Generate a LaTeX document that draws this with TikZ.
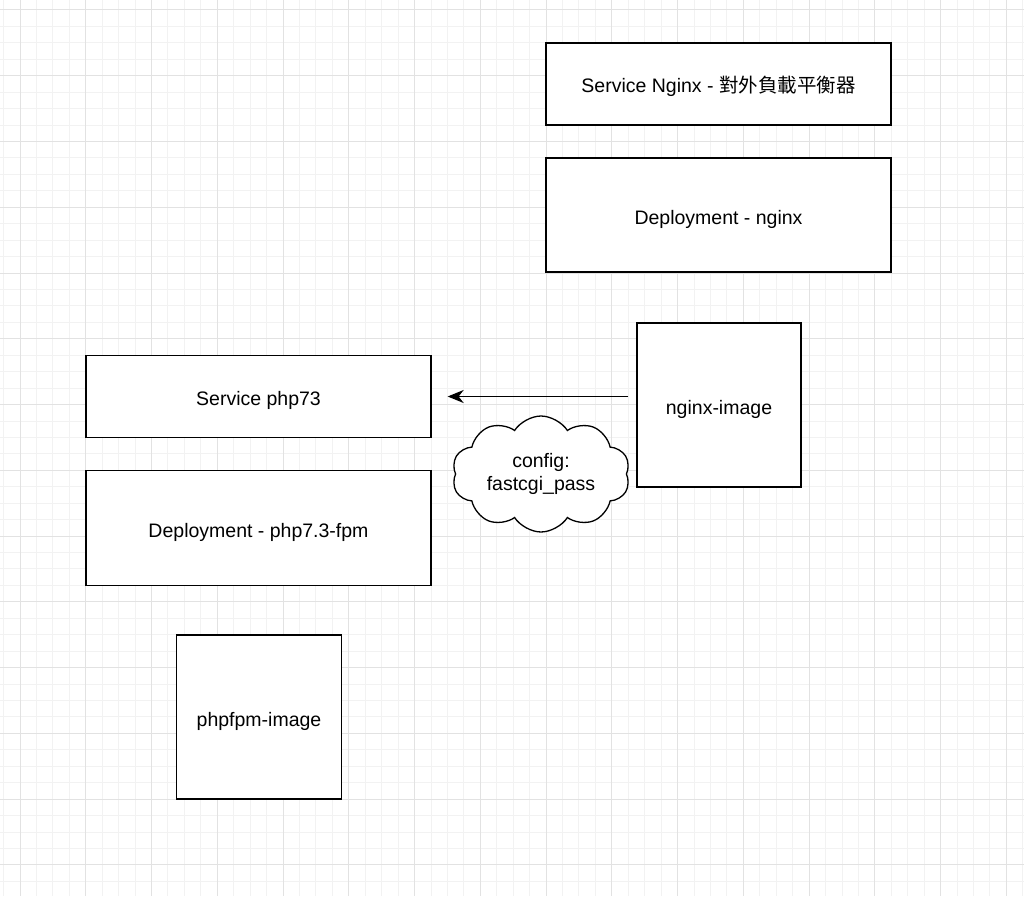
\documentclass[tikz,border=0pt]{standalone}
\usepackage{fontspec}
\setmainfont{Liberation Sans}
\newfontfamily\cjk{Noto Sans CJK TC}
\usetikzlibrary{arrows.meta,shapes.symbols}
\definecolor{gridminor}{HTML}{F2F2F2}
\definecolor{gridmajor}{HTML}{E2E2E2}
\begin{document}
\begin{tikzpicture}[x=1pt, y=-1pt,
  box/.style={draw=black, line width=1.3pt, fill=white, inner sep=0pt,
    text height=18pt, text depth=0pt,
    font=\fontsize{19.5}{23}\selectfont},
  puff/.style={cloud, cloud puffs=10, cloud puff arc=115, aspect=1.62,
    draw=black, line width=1.3pt, fill=white, inner sep=0pt, align=center,
    font=\fontsize{19.5}{23}\selectfont},
  link/.style={line width=1.3pt, -{Stealth[length=16pt,width=13pt,inset=5pt]}}]
\useasboundingbox (0,0) rectangle (1024,896);
\fill[white] (0,0) rectangle (1024,896);
% grid
\foreach \i in {-1,...,62} {
  \draw[gridminor, line width=1pt] (20+16.44*\i,0) -- ++(0,896);
}
\foreach \i in {-1,...,54} {
  \draw[gridminor, line width=1pt] (0,10+16.44*\i) -- ++(1024,0);
}
\foreach \i in {0,...,15} {
  \draw[gridmajor, line width=1pt] (20+65.75*\i,0) -- ++(0,896);
}
\foreach \i in {0,...,13} {
  \draw[gridmajor, line width=1pt] (0,10+65.75*\i) -- ++(1024,0);
}
% nginx side
\node[box, minimum width=345, minimum height=82] (svcnginx) at (718.5,84)
  {Service Nginx - {\cjk 對外負載平衡器}};
\node[box, minimum width=345, minimum height=114] (depnginx) at (718.5,215)
  {Deployment - nginx};
\node[box, minimum width=164, minimum height=164] (nginximg) at (719,405)
  {nginx-image};
% php side
\node[box, minimum width=345, minimum height=82] (svcphp) at (258.5,396.5)
  {Service php73};
\node[box, minimum width=345, minimum height=115] (depphp) at (258.5,528)
  {Deployment - php7.3-fpm};
\node[box, minimum width=165, minimum height=164] (phpimg) at (259,717)
  {phpfpm-image};
\node[puff, minimum width=178, minimum height=110] (cfg) at (541,474)
  {config:\\fastcgi\_pass};
\draw[link, shorten <=8pt, shorten >=16pt] (nginximg.west |- svcphp.east) -- (svcphp.east);
\end{tikzpicture}
\end{document}
